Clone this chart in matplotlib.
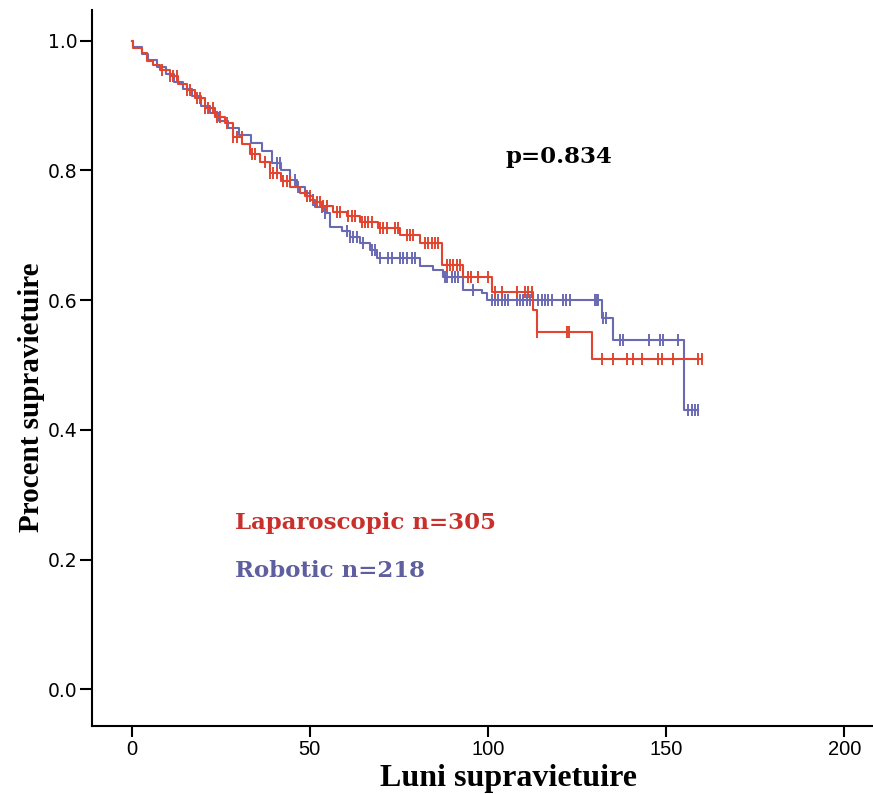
import numpy as np
import matplotlib
matplotlib.use("Agg")
import matplotlib.pyplot as plt

# ---------------- data ----------------
lap_times = [0, 0.5, 2.8, 4.2, 6.0, 7.9, 10.7, 13.1, 15.4, 17.8, 20.6, 23.4, 26.2, 28.5,
             31.0, 33.2, 36.0, 38.8, 41.9, 44.5, 47.2, 48.6, 51.0, 53.5, 56.6, 60.3, 64.1,
             69.2, 75.3, 80.9, 87.0, 93.1, 101.0, 112.7, 113.8, 129.1]
lap_surv = [1.0, 0.988, 0.981, 0.968, 0.962, 0.955, 0.945, 0.934, 0.924, 0.911, 0.896, 0.883,
            0.873, 0.852, 0.840, 0.826, 0.813, 0.796, 0.783, 0.775, 0.765, 0.760, 0.752, 0.745,
            0.736, 0.729, 0.721, 0.711, 0.700, 0.688, 0.654, 0.636, 0.613, 0.585, 0.551, 0.510]
lap_cens = [8.4, 10.7, 11.7, 12.6, 15.4, 16.4, 18.2, 19.2, 20.6, 21.5, 22.9, 23.9, 24.8, 26.7,
            28.5, 29.5, 30.9, 33.7, 34.6, 37.4, 38.8, 39.7, 40.7, 42.6, 43.5, 44.4, 49.1, 50.0,
            51.9, 52.8, 53.8, 54.7, 57.5, 58.5, 60.8, 61.7, 62.7, 64.6, 65.5, 66.4, 67.4, 69.7,
            70.6, 71.6, 73.9, 74.8, 77.2, 78.1, 79.0, 82.3, 83.2, 84.2, 85.1, 86.0, 88.4, 89.3,
            90.3, 91.2, 92.1, 94.4, 95.1, 97.2, 100.0, 102.0, 103.8, 108.0, 110.4, 111.3, 112.3,
            113.8, 122.1, 122.8, 131.9, 135.2, 138.9, 140.8, 143.1, 147.7, 148.7, 152.0, 159.0,
            160.0]

rob_times = [0, 0.3, 2.8, 4.5, 7.0, 9.5, 12.0, 14.5, 17.0, 19.5, 22.0, 24.5, 27.0, 30.0, 33.5,
             36.5, 39.5, 42.0, 44.3, 46.5, 48.5, 50.0, 51.4, 54.3, 55.7, 58.9, 61.3, 64.1, 66.9,
             68.8, 80.9, 84.6, 87.5, 92.9, 98.2, 99.6, 131.9, 135.2, 155.1]
rob_surv = [1.0, 0.991, 0.980, 0.970, 0.960, 0.948, 0.937, 0.926, 0.914, 0.900, 0.888, 0.876,
            0.866, 0.855, 0.842, 0.830, 0.812, 0.800, 0.785, 0.775, 0.765, 0.754, 0.744, 0.734,
            0.713, 0.706, 0.698, 0.688, 0.677, 0.665, 0.652, 0.646, 0.636, 0.616, 0.611, 0.600,
            0.572, 0.5385, 0.4306]
rob_cens = [40.7, 41.6, 45.8, 46.8, 51.0, 53.3, 54.3, 60.3, 61.3, 62.2, 63.1, 65.0, 67.4, 68.3,
            69.7, 72.0, 73.0, 75.3, 76.2, 77.2, 78.6, 79.5, 87.8, 88.6, 89.8, 90.7, 91.7, 95.9,
            101.0, 102.0, 102.9, 103.8, 104.8, 105.7, 108.0, 109.0, 109.9, 110.9, 111.8, 112.7,
            114.1, 115.1, 116.0, 116.9, 117.9, 121.1, 122.0, 123.0, 130.0, 130.5, 130.9, 132.3,
            133.0, 137.0, 138.0, 145.3, 148.3, 149.0, 153.2, 156.2, 157.2, 158.1, 159.0]

x_ticks = [0, 50, 100, 150, 200]
y_ticks = [0.0, 0.2, 0.4, 0.6, 0.8, 1.0]
y_tick_labels = ["0.0", "0.2", "0.4", "0.6", "0.8", "1.0"]

x_label = "Luni supravietuire"
y_label = "Procent supravietuire"
p_text = "p=0.834"
lap_label = "Laparoscopic n=305"
rob_label = "Robotic n=218"

# ---------------- figure ----------------
W, H = 873, 794
fig = plt.figure(figsize=(W / 100, H / 100), dpi=100)
left_px, right_px, top_px, bottom_px = 92.3, 873, 10, 725.7
ax = fig.add_axes([left_px / W, (H - bottom_px) / H, (right_px - left_px) / W,
                   (bottom_px - top_px) / H])

x0_px, xscale = 131.7, 3.563
y0_px, yscale = 689.3, 648.6
ax.set_xlim((left_px - x0_px) / xscale, (right_px - x0_px) / xscale)
ax.set_ylim((y0_px - bottom_px) / yscale, (y0_px - top_px) / yscale)

for s in ["top", "right"]:
    ax.spines[s].set_visible(False)
for s in ["left", "bottom"]:
    ax.spines[s].set_linewidth(1.5)

ax.set_xticks(x_ticks)
ax.set_xticklabels([str(v) for v in x_ticks], fontfamily="Liberation Sans", fontsize=14.5)
ax.set_yticks(y_ticks)
ax.set_yticklabels(y_tick_labels, fontfamily="DejaVu Sans", fontsize=13.5)
ax.tick_params(axis="x", direction="out", length=8, width=1.5, pad=2)
ax.tick_params(axis="y", direction="out", length=9, width=1.5, pad=1.5)

RED_LINE = "#E2452F"
BLUE_LINE = "#6A6AB4"
RED_TEXT = "#C9302B"
BLUE_TEXT = "#5F5FA0"


def km(times, surv, cens, color, z):
    times = np.asarray(times, dtype=float)
    surv = np.asarray(surv, dtype=float)
    cens = np.asarray(cens, dtype=float)
    end = max(times[-1], cens.max())
    tt = np.append(times, end)
    ss = np.append(surv, surv[-1])
    ax.step(tt, ss, where="post", color=color, lw=1.5, zorder=z)
    idx = np.searchsorted(times, cens, side="right") - 1
    ax.plot(cens, surv[idx], ls="none", marker="|", ms=8, mew=1.4, color=color, zorder=z)


km(rob_times, rob_surv, rob_cens, BLUE_LINE, 2)
km(lap_times, lap_surv, lap_cens, RED_LINE, 3)

# annotations
ax.text((505 - x0_px) / xscale, (y0_px - 163) / yscale, p_text, fontfamily="DejaVu Serif",
        fontweight="bold", fontsize=16.5, color="black", ha="left", va="baseline")
ax.text((235 - x0_px) / xscale, (y0_px - 529) / yscale, lap_label, fontfamily="DejaVu Serif",
        fontweight="bold", fontsize=16.5, color=RED_TEXT, ha="left", va="baseline")
ax.text((235 - x0_px) / xscale, (y0_px - 577) / yscale, rob_label, fontfamily="DejaVu Serif",
        fontweight="bold", fontsize=16.5, color=BLUE_TEXT, ha="left", va="baseline")

# axis titles
fig.text(508 / W, (H - 786) / H, x_label, fontfamily="Liberation Serif", fontweight="bold",
         fontsize=23, ha="center", va="baseline")
fig.text(31.5 / W, 1 - 397 / H, y_label, fontfamily="Liberation Serif", fontweight="bold",
         fontsize=21, rotation=90, ha="center", va="center")

fig.savefig("out.png", dpi=100)
